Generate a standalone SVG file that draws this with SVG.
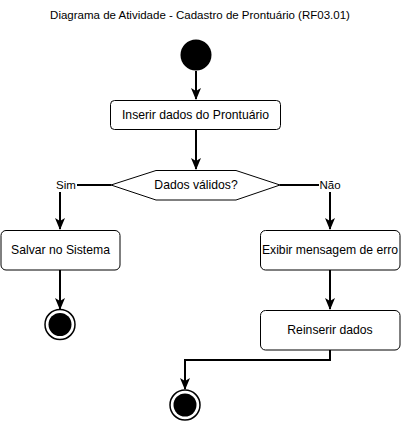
<svg xmlns="http://www.w3.org/2000/svg" width="401" height="421" viewBox="0 0 401 421">
<style>
text{font-family:"Liberation Sans",Arial,sans-serif;fill:#000;text-anchor:middle;dominant-baseline:central}
.t{font-size:11.5px}
.n{font-size:12.2px}
.box{fill:#fff;stroke:#000;stroke-width:1}
.edge{fill:none;stroke:#000;stroke-width:2}
.lbl{font-size:11.5px}
</style>
<defs>
<marker id="arr" viewBox="0 0 12 12" refX="11" refY="6" markerWidth="12" markerHeight="12" markerUnits="userSpaceOnUse" orient="auto">
<path d="M0,1 L12,6 L0,11 L3,6 Z" fill="#000"/>
</marker>
</defs>
<rect width="401" height="421" fill="#fff"/>
<text class="t" x="200" y="15">Diagrama de Atividade - Cadastro de Prontuário (RF03.01)</text>
<g id="connectors">
<path class="edge" d="M196,71 V99" marker-end="url(#arr)"/>
<path class="edge" d="M196,130 V169" marker-end="url(#arr)"/>
<path class="edge" d="M111,185 H60 V229" marker-end="url(#arr)"/>
<path class="edge" d="M280,185 H330 V229" marker-end="url(#arr)"/>
<path class="edge" d="M60,270 V309" marker-end="url(#arr)"/>
<path class="edge" d="M330,270 V309" marker-end="url(#arr)"/>
<path class="edge" d="M330,350 V360 H185 V389" marker-end="url(#arr)"/>
<rect x="56" y="178" width="21" height="14" fill="#fff"/>
<text class="lbl" x="66" y="185">Sim</text>
<rect x="319" y="178" width="23" height="14" fill="#fff"/>
<text class="lbl" x="330" y="185">Não</text>
</g>
<g id="start"><circle cx="196" cy="55" r="15.5" fill="#000"/></g>
<g id="inserir"><rect class="box" x="110.5" y="100.5" width="170" height="29" rx="4"/><text class="n" x="195.5" y="115">Inserir dados do Prontuário</text></g>
<g id="decisao"><polygon class="box" points="111,185 156,170.5 236,170.5 280,185 236,200 156,200"/><text class="n" x="196" y="185">Dados válidos?</text></g>
<g id="salvar"><rect class="box" x="1" y="230.5" width="119" height="39.5" rx="5"/><text class="n" x="60.5" y="250">Salvar no Sistema</text></g>
<g id="erro"><rect class="box" x="260.5" y="230.5" width="139.5" height="39.5" rx="5"/><text class="n" x="330" y="250">Exibir mensagem de erro</text></g>
<g id="reinserir"><rect class="box" x="260.5" y="310.5" width="139.5" height="39.5" rx="5"/><text class="n" x="330" y="330">Reinserir dados</text></g>
<g id="fim1"><circle cx="60" cy="324.5" r="15" fill="#fff" stroke="#000" stroke-width="1.5"/><circle cx="60" cy="324.5" r="11.5" fill="#000"/></g>
<g id="fim2"><circle cx="185" cy="405" r="15" fill="#fff" stroke="#000" stroke-width="1.5"/><circle cx="185" cy="405" r="11.5" fill="#000"/></g>
</svg>
